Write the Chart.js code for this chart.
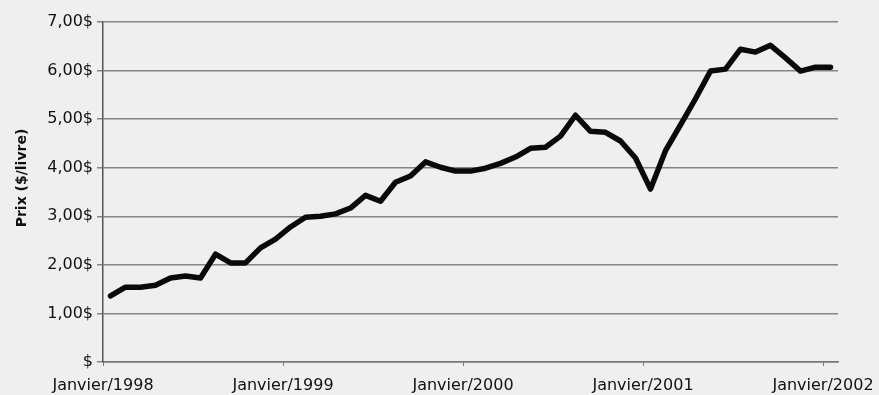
<!DOCTYPE html>
<html>
<head>
<meta charset="utf-8">
<script src="https://cdn.jsdelivr.net/npm/chart.js@4"></script>
<style>
  html, body { margin: 0; padding: 0; background: #efefef; }
  #wrap { width: 879px; height: 395px; position: relative; }
</style>
</head>
<body>
<div id="wrap"><canvas id="c" width="879" height="395"></canvas></div>
<script>
// Monthly categories, Janvier 1998 .. Janvier 2002
const months = ['Janvier','Février','Mars','Avril','Mai','Juin','Juillet','Août','Septembre','Octobre','Novembre','Décembre'];
const categories = [];
for (let y = 1998; y <= 2002; y++) {
  for (let m = 0; m < 12; m++) {
    if (y === 2002 && m > 0) break;
    categories.push(months[m] + '/' + y);
  }
}

// Prix ($/livre)
const prix = [
  1.36, 1.54, 1.54, 1.58, 1.73, 1.77, 1.73, 2.22, 2.04, 2.04, 2.35, 2.53,
  2.78, 2.98, 3.00, 3.05, 3.17, 3.43, 3.31, 3.70, 3.83, 4.12, 4.01, 3.93,
  3.93, 3.99, 4.09, 4.22, 4.40, 4.42, 4.65, 5.08, 4.75, 4.73, 4.55, 4.20,
  3.56, 4.35, 4.88, 5.42, 5.99, 6.03, 6.44, 6.38, 6.52, 6.26, 5.99, 6.07,
  6.07
];

// Axis labels
const xTickLabels = ['Janvier/1998', 'Janvier/1999', 'Janvier/2000', 'Janvier/2001', 'Janvier/2002'];
const xTickIndex = [0, 12, 24, 36, 48];
const yTickLabels = ['$', '1,00$', '2,00$', '3,00$', '4,00$', '5,00$', '6,00$', '7,00$'];
const yTitle = 'Prix ($/livre)';

const points = prix.map((v, i) => ({ x: i, y: v }));

const yTitlePlugin = {
  id: 'yTitlePlugin',
  afterDraw(chart) {
    const ctx = chart.ctx;
    ctx.save();
    ctx.translate(22, 178);
    ctx.rotate(-Math.PI / 2);
    ctx.font = 'bold 14px "DejaVu Sans"';
    ctx.fillStyle = '#111';
    ctx.textAlign = 'center';
    ctx.textBaseline = 'middle';
    ctx.fillText(yTitle, 0, 0);
    ctx.restore();
  }
};

new Chart(document.getElementById('c'), {
  type: 'line',
  data: {
    labels: categories,
    datasets: [{
      data: points,
      borderColor: '#0a0a0a',
      borderWidth: 5.5,
      borderJoinStyle: 'round',
      borderCapStyle: 'round',
      pointRadius: 0,
      tension: 0,
      fill: false
    }]
  },
  plugins: [yTitlePlugin],
  options: {
    responsive: false,
    animation: false,
    devicePixelRatio: 1,
    layout: { padding: { top: 22, right: 41, left: 0, bottom: 0 } },
    plugins: { legend: { display: false }, tooltip: { enabled: false } },
    scales: {
      x: {
        type: 'linear',
        min: -0.5,
        max: 48.5,
        afterBuildTicks: (scale) => {
          scale.ticks = xTickIndex.map(i => ({ value: i - 0.5 }));
        },
        afterFit: (scale) => {
          scale.height = 33;
          scale.paddingLeft = 0;
          scale.paddingRight = 0;
        },
        ticks: {
          autoSkip: false,
          maxRotation: 0,
          padding: 10,
          color: '#111',
          font: { family: 'DejaVu Sans', size: 16 },
          callback: (v, i) => xTickLabels[i]
        },
        grid: {
          drawOnChartArea: false,
          drawTicks: true,
          tickLength: 4,
          color: '#777',
          lineWidth: 1
        },
        border: { display: true, color: '#777', width: 1.5 }
      },
      y: {
        min: 0,
        max: 7,
        afterFit: (scale) => {
          scale.width = 103;
          scale.paddingTop = 0;
          scale.paddingBottom = 0;
        },
        ticks: {
          stepSize: 1,
          padding: 4,
          color: '#111',
          font: { family: 'DejaVu Sans', size: 16 },
          callback: (v) => yTickLabels[Math.round(v)]
        },
        grid: {
          color: '#858585',
          lineWidth: 1.5,
          tickLength: 6
        },
        border: { display: true, color: '#555', width: 1.5 },
        title: { display: false }
      }
    }
  }
});
</script>
</body>
</html>
